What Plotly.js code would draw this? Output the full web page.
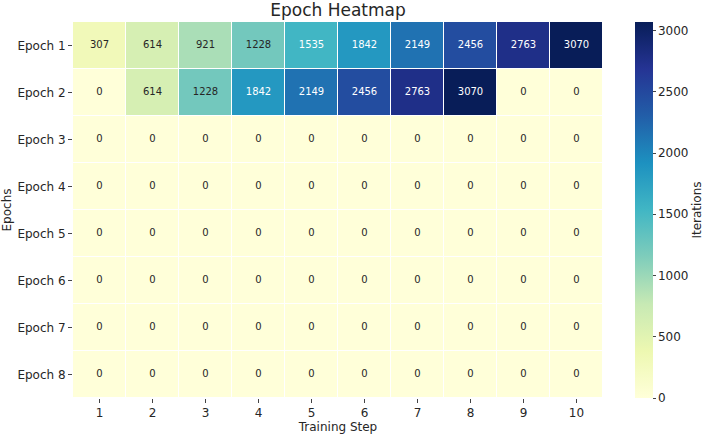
<!DOCTYPE html>
<html>
<head>
<meta charset="utf-8">
<script src="https://cdn.plot.ly/plotly-3.0.1.min.js"></script>
<style>
  html, body { margin: 0; padding: 0; background: #ffffff; }
  #chart { width: 708px; height: 435px; }
</style>
</head>
<body>
<div id="chart"></div>
<script>
// Training steps along x, epochs along y
const steps = ['1', '2', '3', '4', '5', '6', '7', '8', '9', '10'];
const epochs = ['Epoch 1', 'Epoch 2', 'Epoch 3', 'Epoch 4', 'Epoch 5', 'Epoch 6', 'Epoch 7', 'Epoch 8'];

// Iteration counts per epoch (rows) and step (columns)
const epoch1 = [307, 614, 921, 1228, 1535, 1842, 2149, 2456, 2763, 3070];
const epoch2 = [0, 614, 1228, 1842, 2149, 2456, 2763, 3070, 0, 0];
const epoch3 = [0, 0, 0, 0, 0, 0, 0, 0, 0, 0];
const epoch4 = [0, 0, 0, 0, 0, 0, 0, 0, 0, 0];
const epoch5 = [0, 0, 0, 0, 0, 0, 0, 0, 0, 0];
const epoch6 = [0, 0, 0, 0, 0, 0, 0, 0, 0, 0];
const epoch7 = [0, 0, 0, 0, 0, 0, 0, 0, 0, 0];
const epoch8 = [0, 0, 0, 0, 0, 0, 0, 0, 0, 0];
const iterations = [epoch1, epoch2, epoch3, epoch4, epoch5, epoch6, epoch7, epoch8];

const colorbarTicks = [0, 500, 1000, 1500, 2000, 2500, 3000];

// Yellow-green-blue sequential scale
const ylGnBu = [
  [0.000, '#ffffd9'], [0.125, '#edf8b1'], [0.250, '#c7e9b4'],
  [0.375, '#7fcdbb'], [0.500, '#41b6c4'], [0.625, '#1d91c0'],
  [0.750, '#225ea8'], [0.875, '#253494'], [1.000, '#081d58']
];

const zMax = Math.max(...iterations.flat());

// Cell labels: light text on dark cells, dark text on light cells
const labelX = [], labelY = [], labelText = [], labelColor = [];
iterations.forEach((row, r) => {
  row.forEach((v, c) => {
    labelX.push(steps[c]);
    labelY.push(epochs[r]);
    labelText.push(String(v));
    labelColor.push(v / zMax > 0.45 ? '#ffffff' : '#262626');
  });
});

const heat = {
  type: 'heatmap',
  x: steps,
  y: epochs,
  z: iterations,
  zmin: 0,
  zmax: zMax,
  colorscale: ylGnBu,
  xgap: 1,
  ygap: 1,
  hoverongaps: false,
  colorbar: {
    x: 1.0604, xanchor: 'left', xpad: 0,
    y: 0.5, yanchor: 'middle', ypad: 0,
    len: 1, lenmode: 'fraction',
    thickness: 18,
    outlinewidth: 0,
    tickvals: colorbarTicks,
    ticks: 'outside', ticklen: 3, tickcolor: '#444',
    tickfont: { family: 'DejaVu Sans', size: 12, color: '#262626' },
    title: { text: 'Iterations', side: 'right', font: { family: 'DejaVu Sans', size: 12, color: '#262626' } }
  }
};

const labels = {
  type: 'scatter',
  mode: 'text',
  x: labelX,
  y: labelY,
  text: labelText,
  textposition: 'middle center',
  textfont: { family: 'DejaVu Sans', size: 10, color: labelColor },
  hoverinfo: 'skip',
  showlegend: false
};

const layout = {
  width: 708,
  height: 435,
  margin: { l: 73, r: 105, t: 22, b: 37, autoexpand: false },
  paper_bgcolor: '#ffffff',
  plot_bgcolor: '#ffffff',
  font: { family: 'DejaVu Sans', color: '#262626' },
  title: {
    text: 'Epoch Heatmap',
    x: 0.5, xref: 'paper', xanchor: 'center',
    y: 0.977, yref: 'container', yanchor: 'middle',
    font: { family: 'DejaVu Sans', size: 17, color: '#262626' }
  },
  xaxis: {
    type: 'category',
    showgrid: false, zeroline: false, showline: false,
    ticks: 'outside', ticklen: 4, tickcolor: '#444',
    tickfont: { size: 12, color: '#262626' },
    title: { text: 'Training Step', standoff: 0, font: { size: 12, color: '#262626' } }
  },
  yaxis: {
    type: 'category',
    autorange: 'reversed',
    showgrid: false, zeroline: false, showline: false,
    ticks: 'outside', ticklen: 4, tickcolor: '#444',
    tickfont: { size: 12, color: '#262626' },
    title: { text: 'Epochs', standoff: 4, font: { size: 12, color: '#262626' } }
  }
};

Plotly.newPlot('chart', [heat, labels], layout, { displayModeBar: false, staticPlot: true });
</script>
</body>
</html>
